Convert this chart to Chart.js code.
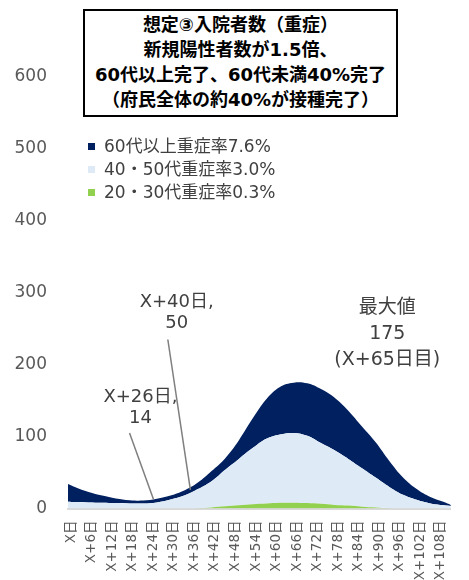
<!DOCTYPE html>
<html lang="ja">
<head>
<meta charset="utf-8">
<title>想定③入院者数（重症）</title>
<script src="https://cdn.jsdelivr.net/npm/chart.js@4.4.1/dist/chart.umd.min.js"></script>
<style>
  body { margin: 0; background: #fff; }
  #wrap { position: relative; width: 469px; height: 580px; overflow: hidden;
          font-family: 'DejaVu Sans', 'Noto Sans CJK JP', sans-serif; }
  #grafico { position: absolute; left: 0; top: 0; }
  #titulo { position: absolute; left: 83px; top: 9px; width: 315px; height: 108px; box-sizing: border-box;
            border: 2px solid #000; padding-top: 1px; text-align: center; font-weight: bold;
            font-size: 18px; line-height: 25px; color: #000; background: #fff; }
  #leyenda { position: absolute; left: 88px; top: 135px; font-size: 17px; line-height: 23px; color: #404040; }
  .item { display: flex; align-items: center; white-space: nowrap; }
  .cuadro { width: 7px; height: 7px; margin-right: 9px; }
</style>
</head>
<body>
<div id="wrap">
  <canvas id="grafico" width="469" height="580"></canvas>
  <div id="titulo">想定③入院者数（重症）<br>新規陽性者数が1.5倍、<br>60代以上完了、60代未満40%完了<br>（府民全体の約40%が接種完了）</div>
  <div id="leyenda"></div>
</div>
<script>
// días desde X日
const dias = [-1, 1, 5, 9, 13, 17, 21, 25, 29, 33, 37, 41, 45, 49, 53, 57, 61, 65, 69, 73, 77, 81, 85, 89, 93, 97, 101, 105, 109, 111];
// series (apiladas: 20・30代 abajo)
const edad2030 = [0, 0, 0, 0, 0, 0, 0, 0, 0, 0, 0.5, 1.5, 3, 4.5, 6, 7, 8, 8, 7.5, 6.5, 5, 4, 2.5, 1.5, 0.5, 0, 0, 0, 0, 0];
const edad4050 = [9.5, 9, 8.5, 8, 7.5, 7, 7, 8.5, 12.5, 18, 26.5, 36.5, 51, 64.5, 78, 90, 95, 97, 93.5, 84.5, 76, 65, 53.5, 41.5, 29.5, 19, 12, 7, 4.5, 3.5];
const edad60  = [24.5, 21, 14.5, 10, 6.5, 4.5, 4, 5, 5.5, 7, 9, 14, 16, 26, 41, 55, 66, 70, 73, 75, 73, 67, 58, 49, 36, 24, 15, 9, 4.5, 1.5];

const nombres = ['20・30代重症率0.3%', '40・50代重症率3.0%', '60代以上重症率7.6%'];
const colores = ['#92D050', '#DEEBF7', '#002060'];

const tickDias = [0, 6, 12, 18, 24, 30, 36, 42, 48, 54, 60, 66, 72, 78, 84, 90, 96, 102, 108];
const tickEtiquetas = ['X日', 'X+6日', 'X+12日', 'X+18日', 'X+24日', 'X+30日', 'X+36日', 'X+42日', 'X+48日', 'X+54日',
  'X+60日', 'X+66日', 'X+72日', 'X+78日', 'X+84日', 'X+90日', 'X+96日', 'X+102日', 'X+108日'];
const yTicks = [0, 100, 200, 300, 400, 500, 600];

// notas sobre el gráfico (en unidades de los ejes)
const anotaciones = [
  { lineas: ['X+26日,', '14'], en: [20.2, 155], alto: 21, fuente: 18, linea: [[17, 105], [24, 13]] },
  { lineas: ['X+40日,', '50'], en: [30.8, 286], alto: 21, fuente: 18, linea: [[28.2, 235], [34.8, 26]] },
  { lineas: ['最大値', '175', '(X+65日目)'], en: [92.4, 279], alto: 26, fuente: 19 },
];

const serie = vals => dias.map((d, i) => ({ x: d, y: vals[i] }));

const notasPlugin = {
  id: 'notas',
  afterDatasetsDraw(chart) {
    const { ctx, scales: { x, y } } = chart;
    ctx.save();
    anotaciones.forEach(a => {
      if (a.linea) {
        ctx.strokeStyle = '#7f7f7f';
        ctx.lineWidth = 1.5;
        ctx.beginPath();
        ctx.moveTo(x.getPixelForValue(a.linea[0][0]), y.getPixelForValue(a.linea[0][1]));
        ctx.lineTo(x.getPixelForValue(a.linea[1][0]), y.getPixelForValue(a.linea[1][1]));
        ctx.stroke();
      }
      ctx.font = `${a.fuente}px 'DejaVu Sans', 'Noto Sans CJK JP'`;
      ctx.fillStyle = '#404040';
      ctx.textAlign = 'center';
      ctx.textBaseline = 'middle';
      const px = x.getPixelForValue(a.en[0]);
      const py = y.getPixelForValue(a.en[1]);
      a.lineas.forEach((t, i) => ctx.fillText(t, px, py + i * a.alto));
    });
    ctx.restore();
  }
};

const ctx = document.getElementById('grafico').getContext('2d');
const chart = new Chart(ctx, {
  type: 'line',
  data: {
    datasets: [edad2030, edad4050, edad60].map((v, i) => ({
      label: nombres[i],
      data: serie(v),
      backgroundColor: colores[i],
      borderWidth: 0,
      pointRadius: 0,
      fill: i === 0 ? 'origin' : '-1',
      tension: 0.4,
    }))
  },
  options: {
    responsive: false,
    animation: false,
    layout: { padding: { top: 77, right: 7, left: 0, bottom: 0 } },
    plugins: { legend: { display: false }, tooltip: { enabled: false } },
    scales: {
      x: {
        type: 'linear', min: -1, max: 111,
        grid: { display: false, drawTicks: false },
        border: { display: true, color: '#d9d9d9', width: 2 },
        afterBuildTicks: s => { s.ticks = tickDias.map(v => ({ value: v })); },
        afterFit: s => { s.height = 71.5; },
        ticks: {
          autoSkip: false, minRotation: 90, maxRotation: 90, padding: 12,
          color: '#595959', font: { family: "'DejaVu Sans', 'Noto Sans CJK JP'", size: 13.5 },
          callback: v => tickEtiquetas[tickDias.indexOf(v)]
        }
      },
      y: {
        stacked: true, min: 0, max: 600,
        grid: { display: false, drawTicks: false },
        border: { display: false },
        afterBuildTicks: s => { s.ticks = yTicks.map(v => ({ value: v })); },
        afterFit: s => { s.width = 68; },
        ticks: { padding: 21, color: '#595959', font: { family: "'DejaVu Sans'", size: 17 } }
      }
    }
  },
  plugins: [notasPlugin]
});

// leyenda (orden inverso al apilado)
document.getElementById('leyenda').innerHTML = [...chart.data.datasets].reverse().map(ds => `
  <div class="item"><span class="cuadro" style="background:${ds.backgroundColor}"></span>${ds.label}</div>`).join('');
</script>
</body>
</html>
